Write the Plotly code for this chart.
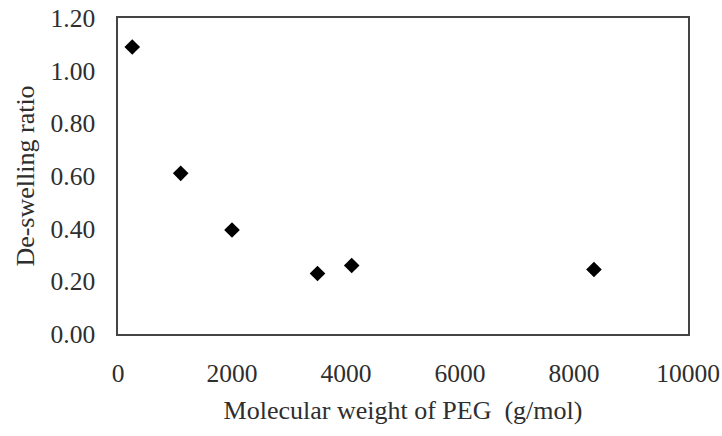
import plotly.graph_objects as go

mw = [250, 1100, 2000, 3500, 4100, 8350]
ratio = [1.09, 0.61, 0.395, 0.23, 0.26, 0.245]
x_ticks = [0, 2000, 4000, 6000, 8000, 10000]
y_ticks = [0.0, 0.2, 0.4, 0.6, 0.8, 1.0, 1.2]

fig = go.Figure(go.Scatter(
    x=mw, y=ratio, mode="markers",
    marker=dict(symbol="diamond", size=12, color="black"),
))

fam = "Liberation Serif"
col = "#2e2e2e"
fig.update_layout(
    width=722, height=436,
    margin=dict(l=118, r=34, t=18, b=102, autoexpand=False),
    paper_bgcolor="white", plot_bgcolor="white",
    font=dict(family=fam, size=26, color=col), showlegend=False,
)
fig.update_xaxes(
    range=[0, 10000], tickvals=x_ticks, ticktext=[str(v) for v in x_ticks],
    showgrid=False, zeroline=False, showline=True, mirror=True,
    linecolor="#444", linewidth=1.5, ticks="", ticklabelstandoff=16,
    automargin=False,
    tickfont=dict(family=fam, size=25.5, color=col),
    title=dict(text="Molecular weight of PEG\u00a0\u00a0(g/mol)", standoff=13,
               font=dict(family=fam, size=26, color=col)),
)
fig.update_yaxes(
    range=[0, 1.2], tickvals=y_ticks, ticktext=[f"{v:.2f}" for v in y_ticks],
    showgrid=False, zeroline=False, showline=True, mirror=True,
    linecolor="#444", linewidth=1.5, ticks="", ticklabelstandoff=16,
    automargin=False,
    tickfont=dict(family=fam, size=25.5, color=col),
    title=dict(text="De-swelling ratio", standoff=8,
               font=dict(family=fam, size=26, color=col)),
)
fig.write_html("out.html")
